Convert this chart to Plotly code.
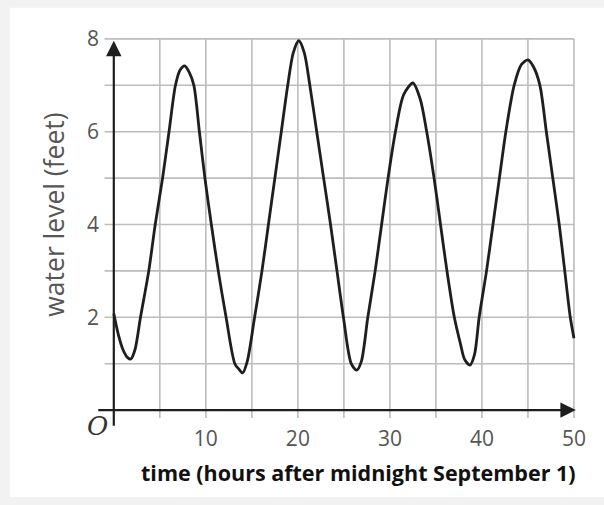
import plotly.graph_objects as go

# Water level readings (feet) against hours after midnight, September 1
hours = [0, 0.5, 1.0, 1.5, 1.85, 2.3, 2.9, 3.8, 4.5, 5.3, 6.0, 6.7, 7.2, 7.7, 8.2, 8.7,
         9.3, 9.9, 10.6, 11.35, 12.2, 13.15, 13.6, 14.0, 14.5, 15.3, 16.1, 16.8, 17.5,
         18.2, 18.9, 19.5, 20.1, 20.7, 21.3, 22.05, 22.8, 23.55, 24.25, 24.95, 25.8,
         26.4, 26.9, 27.6, 28.4, 29.1, 29.8, 30.6, 31.5, 32.5, 33.3, 34.0, 34.8, 35.5,
         36.2, 37.0, 37.7, 38.1, 38.7, 39.2, 39.7, 40.5, 41.2, 41.9, 42.6, 43.5, 44.3,
         45.0, 45.6, 46.3, 47.0, 47.7, 48.4, 49.0, 49.6, 50.0]
level = [2.08, 1.62, 1.3, 1.13, 1.1, 1.3, 2.0, 3.0, 4.0, 5.0, 6.0, 7.0, 7.33, 7.42, 7.28, 7.0,
         6.0, 5.0, 4.0, 3.0, 2.0, 1.0, 0.88, 0.8, 1.05, 2.0, 3.0, 4.0, 5.0,
         6.0, 7.0, 7.7, 7.96, 7.7, 7.0, 6.0, 5.0, 4.0, 3.0, 2.0, 1.0,
         0.86, 1.05, 2.0, 3.0, 4.0, 5.0, 6.0, 6.8, 7.05, 6.7, 6.0, 5.0, 4.0,
         3.0, 2.0, 1.4, 1.1, 0.97, 1.2, 2.0, 3.0, 4.0, 5.0, 6.0, 7.0, 7.45,
         7.55, 7.4, 7.0, 6.0, 5.0, 4.0, 3.0, 2.0, 1.55]

x_ticks = [10, 20, 30, 40, 50]
y_ticks = [2, 4, 6, 8]
x_grid = [5, 10, 15, 20, 25, 30, 35, 40, 45, 50]
y_grid = [1, 2, 3, 4, 5, 6, 7, 8]

GRID = "#bdbdbd"
INK = "#1e1e1e"
LABEL = "#555555"

fig = go.Figure()

fig.add_trace(go.Scatter(
    x=hours, y=level, mode="lines",
    line=dict(color=INK, width=2.8, shape="spline", smoothing=0.8),
    hoverinfo="skip", showlegend=False,
))

shapes = []
# white panel over the grey page
shapes.append(dict(type="rect", xref="paper", yref="paper",
                   x0=-0.186, x1=1.04, y0=-0.183, y1=1.043,
                   fillcolor="white", line=dict(width=0), layer="below"))
for gx in x_grid:
    shapes.append(dict(type="line", xref="x", yref="y", x0=gx, x1=gx, y0=-0.17, y1=8,
                       line=dict(color=GRID, width=1.6), layer="below"))
for gy in y_grid:
    shapes.append(dict(type="line", xref="x", yref="y", x0=-1.0, x1=50, y0=gy, y1=gy,
                       line=dict(color=GRID, width=1.6), layer="below"))

annotations = [
    # vertical axis with arrow
    dict(x=0, y=7.96, ax=0, ay=-0.37, xref="x", yref="y", axref="x", ayref="y",
         showarrow=True, arrowhead=2, arrowsize=1.4, arrowwidth=2.2, arrowcolor=INK, text=""),
    # horizontal axis with arrow
    dict(x=50.2, y=0, ax=-1.85, ay=0, xref="x", yref="y", axref="x", ayref="y",
         showarrow=True, arrowhead=2, arrowsize=1.4, arrowwidth=2.2, arrowcolor=INK, text=""),
    # origin mark
    dict(x=-0.006, y=-0.004, xref="paper", yref="paper", xanchor="center", yanchor="middle",
         showarrow=False, text="<i>O</i>",
         font=dict(family="DejaVu Serif", size=26, color="#333333")),
    dict(x=-0.0953, y=0.524, xref="paper", yref="paper", xanchor="center", yanchor="middle",
         showarrow=False, textangle=-90, text="water level (feet)",
         font=dict(family="Open Sans", size=26.5, color=LABEL)),
    dict(x=0.534, y=-0.1206, xref="paper", yref="paper", xanchor="center", yanchor="middle",
         showarrow=False, text="<b>time (hours after midnight September 1)</b>",
         font=dict(family="Open Sans", size=21.5, color="#111111")),
]

fig.update_layout(
    width=604, height=505,
    margin=dict(l=100.2, r=19, t=25.1, b=81.1),
    paper_bgcolor="#f2f2f2", plot_bgcolor="rgba(0,0,0,0)",
    shapes=shapes, annotations=annotations,
    xaxis=dict(range=[-1.5, 51.2], showgrid=False, zeroline=False, showline=False,
               tickmode="array", tickvals=x_ticks, ticks="", ticklabelstandoff=0,
               tickfont=dict(family="Open Sans", size=21, color=LABEL), fixedrange=True),
    yaxis=dict(range=[-0.3, 8.3], showgrid=False, zeroline=False, showline=False,
               tickmode="array", tickvals=y_ticks, ticks="", ticklabelstandoff=0,
               tickfont=dict(family="Open Sans", size=21, color=LABEL), fixedrange=True),
)

fig.write_html("out.html")
